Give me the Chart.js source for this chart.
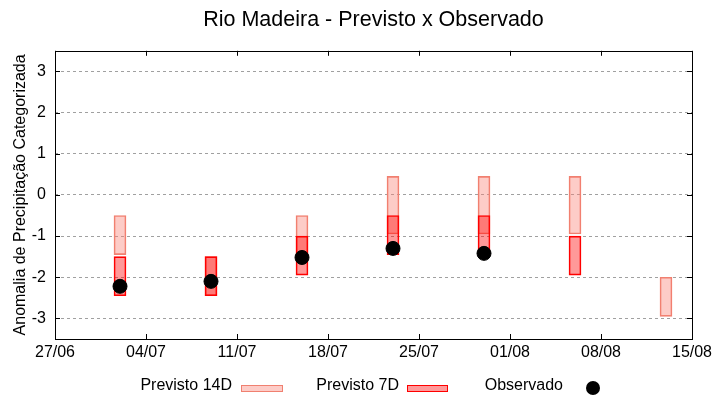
<!DOCTYPE html>
<html>
<head>
<meta charset="utf-8">
<script src="https://cdn.jsdelivr.net/npm/chart.js@4/dist/chart.umd.min.js"></script>
<style>html,body{margin:0;background:#fff}</style>
</head>
<body>
<canvas id="chart" width="720" height="400" style="width:720px;height:400px"></canvas>
<script>
// x axis labels, one per week, starting 27/06
const tickLabels = ['27/06', '04/07', '11/07', '18/07', '25/07', '01/08', '08/08', '15/08'];
const yTicks = [-3, -2, -1, 0, 1, 2, 3];
const weeks = ['02/07', '09/07', '16/07', '23/07', '30/07', '06/08', '13/08'];

// forecast ranges (low / high) and observed values
const prev14Low = [-1.45, -2.45, -1.45, -0.95, -0.95, -0.95, -2.95];
const prev14High = [-0.5, -1.5, -0.5, 0.45, 0.45, 0.45, -2.0];
const prev7Low = [-2.45, -2.45, -1.95, -1.45, -1.45, -1.95, null];
const prev7High = [-1.5, -1.5, -1.0, -0.5, -0.5, -1.0, null];
const observed = [-2.22, -2.1, -1.52, -1.3, -1.42, null, null];

const FONT = "'Liberation Sans', Arial, sans-serif";

function dayOf(s) {
    const [d, m] = s.split('/').map(Number);
    return Math.round((Date.UTC(2021, m - 1, d) - Date.UTC(2021, 5, 27)) / 864e5);
}

function rangeData(lo, hi) {
    return weeks.map((w, i) => ({ x: dayOf(w), y: [lo[i], hi[i]] })).filter(p => p.y[0] !== null);
}

const col14 = { fill: 'rgba(250,128,114,0.4)', line: '#f08070' };
const col7 = { fill: 'rgba(255,0,0,0.4)', line: '#ff0000' };

// frame, inward ticks and gnuplot-like legend
const framePlugin = {
    id: 'frame',
    afterDraw(chart) {
        const ctx = chart.ctx;
        const a = chart.chartArea;
        const xs = chart.scales.x, ys = chart.scales.y;
        ctx.save();
        ctx.strokeStyle = '#000';
        ctx.lineWidth = 1;
        ctx.strokeRect(Math.round(a.left) + 0.5, Math.round(a.top) + 0.5, Math.round(a.right - a.left), Math.round(a.bottom - a.top));
        ctx.beginPath();
        xs.ticks.forEach(t => {
            const px = Math.round(xs.getPixelForValue(t.value)) + 0.5;
            ctx.moveTo(px, a.bottom); ctx.lineTo(px, a.bottom - 5);
            ctx.moveTo(px, a.top); ctx.lineTo(px, a.top + 5);
        });
        ys.ticks.forEach(t => {
            const py = Math.round(ys.getPixelForValue(t.value)) + 0.5;
            ctx.moveTo(a.left, py); ctx.lineTo(a.left + 5, py);
            ctx.moveTo(a.right, py); ctx.lineTo(a.right - 5, py);
        });
        ctx.stroke();

        // legend
        ctx.font = '16px ' + FONT;
        ctx.fillStyle = '#000';
        ctx.textAlign = 'right';
        ctx.textBaseline = 'middle';
        const ly = 386;
        ctx.fillText('Previsto 14D', 232, ly);
        ctx.fillText('Previsto 7D', 399, ly);
        ctx.fillText('Observado', 563, ly);
        ctx.fillStyle = col14.fill; ctx.fillRect(241, 385, 41, 6);
        ctx.strokeStyle = col14.line; ctx.strokeRect(241.5, 385.5, 41, 6);
        ctx.fillStyle = col7.fill; ctx.fillRect(407, 385, 40, 6);
        ctx.strokeStyle = col7.line; ctx.strokeRect(407.5, 385.5, 40, 6);
        ctx.fillStyle = '#000';
        ctx.beginPath(); ctx.arc(593, 388, 7, 0, Math.PI * 2); ctx.fill();
        ctx.restore();
    }
};

new Chart(document.getElementById('chart'), {
    type: 'bar',
    data: {
        datasets: [
            {
                label: 'Previsto 14D',
                data: rangeData(prev14Low, prev14High),
                backgroundColor: col14.fill,
                borderColor: col14.line,
                borderWidth: 1,
                borderSkipped: false,
                barThickness: 12,
                grouped: false,
                order: 3
            },
            {
                label: 'Previsto 7D',
                data: rangeData(prev7Low, prev7High),
                backgroundColor: col7.fill,
                borderColor: col7.line,
                borderWidth: 1,
                borderSkipped: false,
                barThickness: 12,
                grouped: false,
                order: 2
            },
            {
                type: 'line',
                label: 'Observado',
                data: weeks.map((w, i) => ({ x: dayOf(w), y: observed[i] })).filter(p => p.y !== null),
                showLine: false,
                pointRadius: 7,
                pointBackgroundColor: '#000',
                pointBorderColor: '#000',
                order: 1
            }
        ]
    },
    options: {
        responsive: false,
        devicePixelRatio: 1,
        animation: false,
        layout: { padding: { left: 0, right: 28, top: 0, bottom: 0 } },
        plugins: {
            legend: { display: false },
            tooltip: { enabled: false },
            title: {
                display: true,
                fullSize: false,
                text: 'Rio Madeira - Previsto x Observado',
                color: '#000',
                font: { family: FONT, size: 21.5, weight: 'normal' },
                padding: { top: 7, bottom: 18 }
            }
        },
        scales: {
            x: {
                type: 'linear',
                offset: false,
                min: 0,
                max: 49,
                afterFit(s) { s.height = 61; },
                afterBuildTicks(s) { s.ticks = tickLabels.map((l, i) => ({ value: i * 7 })); },
                ticks: {
                    padding: 4,
                    color: '#000',
                    font: { family: FONT, size: 16 },
                    maxRotation: 0,
                    autoSkip: false,
                    callback: v => tickLabels[v / 7]
                },
                grid: { display: false, drawTicks: false },
                border: { display: false }
            },
            y: {
                min: -3.5,
                max: 3.5,
                afterFit(s) { s.width = 55; },
                afterBuildTicks(s) { s.ticks = yTicks.map(v => ({ value: v })); },
                ticks: {
                    padding: 9,
                    color: '#000',
                    font: { family: FONT, size: 16 }
                },
                grid: { color: '#a0a0a0', drawTicks: false, lineWidth: 1 },
                border: { display: false, dash: [3, 3] },
                title: {
                    display: true,
                    text: 'Anomalia de Precipitação Categorizada',
                    color: '#000',
                    font: { family: FONT, size: 16 },
                    padding: { top: 11, bottom: 0 }
                }
            }
        }
    },
    plugins: [framePlugin]
});
</script>
</body>
</html>
